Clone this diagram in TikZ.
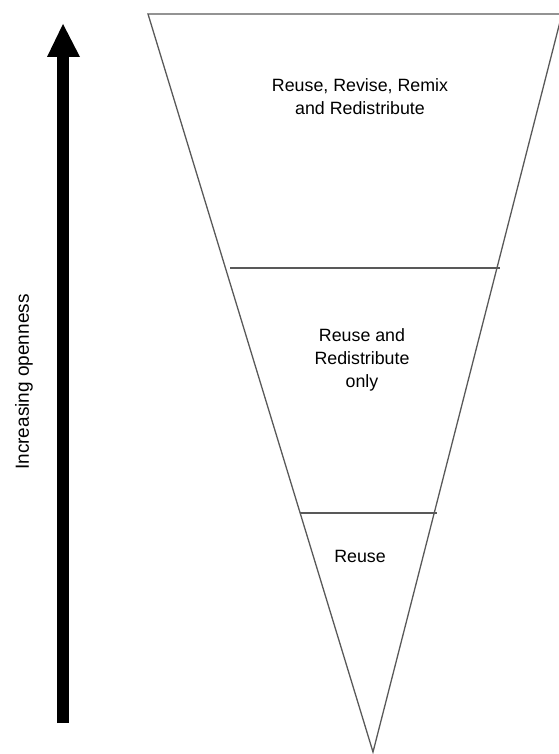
\documentclass[tikz,border=0pt]{standalone}
\usepackage{fontspec}
\setmainfont{Liberation Sans}
\usepackage{amsmath}

\begin{document}
\begin{tikzpicture}[x=1pt,y=1pt,
  tier/.style={align=center,font=\fontsize{17.8}{23}\selectfont},
  side/.style={rotate=90,font=\fontsize{19}{21}\selectfont}]
\tikzstyle{every node}+=[inner sep=0pt]
\useasboundingbox (0,0) rectangle (558,-754);
\draw [black!65,line width=1.3] (148,-14) -- (562,-14) -- (373,-752) -- cycle;
\draw [black!65,line width=2.2] (230,-268) -- (500,-268);
\draw [black!65,line width=1.6] (300,-513) -- (437,-513);
\draw (360,-97) node [tier] (top) {Reuse, Revise, Remix\\and Redistribute};
\draw (362,-360) node [tier] (mid) {Reuse and\\Redistribute\\only};
\draw (360,-556) node [tier] (low) {Reuse};
\draw [black,line width=12] (63,-723) -- (63,-56);
\fill [black] (63,-24) -- (47,-57) -- (80,-57) -- cycle;
\draw (24,-382) node [side] (open) {Increasing openness};
\end{tikzpicture}
\end{document}
